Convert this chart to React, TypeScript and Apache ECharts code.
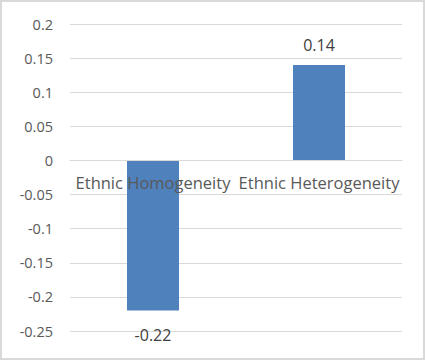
import React, { useEffect, useRef } from "react";
import * as echarts from "echarts";

const categories = ["Ethnic Homogeneity", "Ethnic Heterogeneity"];
const values = [-0.22, 0.14];
const yMin = -0.25;
const yMax = 0.2;
const yInterval = 0.05;

export default function App() {
  const ref = useRef<HTMLDivElement>(null);
  useEffect(() => {
    if (!ref.current) return;
    const chart = echarts.init(ref.current, undefined, { renderer: "svg" });
    const font = "'Open Sans', 'Noto Sans', sans-serif";
    const top = 24;
    const bottom = 29;
    const plotH = 360 - top - bottom;
    const zeroOffset = -(plotH * (0 - yMin)) / (yMax - yMin);
    chart.setOption({
      animation: false,
      backgroundColor: "transparent",
      textStyle: { fontFamily: font },
      grid: { left: 70, right: 23, top, bottom },
      xAxis: {
        type: "category",
        data: categories,
        z: 5,
        offset: zeroOffset,
        axisLine: { show: true, onZero: false, lineStyle: { color: "#d9d9d9", width: 1 } },
        axisTick: { show: false },
        axisLabel: { color: "#595959", fontSize: 16.5, fontFamily: font, margin: 14, interval: 0 },
      },
      yAxis: {
        type: "value",
        min: yMin,
        max: yMax,
        interval: yInterval,
        axisLine: { show: false },
        axisTick: { show: false },
        splitLine: { lineStyle: { color: "#d9d9d9", width: 1 } },
        axisLabel: {
          color: "#595959",
          fontSize: 14.5,
          fontFamily: font,
          margin: 17,
          formatter: (v: number) => String(parseFloat(v.toFixed(2))),
        },
      },
      series: [
        {
          type: "bar",
          barWidth: 52,
          itemStyle: { color: "#4f81bd" },
          data: values.map((v) => ({
            value: v,
            label: {
              show: true,
              position: v < 0 ? "bottom" : "top",
              distance: v < 0 ? 16 : 12,
              color: "#404040",
              fontSize: 16,
              fontFamily: font,
            },
          })),
        },
      ],
    });
    return () => chart.dispose();
  }, []);
  return (
    <div style={{ position: "absolute", left: 0, top: 0, width: 425, height: 360, background: "#fff" }}>
      <div ref={ref} style={{ position: "absolute", left: 0, top: 0, width: 425, height: 360 }} />
      <div
        style={{
          position: "absolute",
          left: 0,
          top: 0,
          width: 425,
          height: 360,
          boxSizing: "border-box",
          border: "2px solid #d9d9d9",
          pointerEvents: "none",
        }}
      />
    </div>
  );
}
